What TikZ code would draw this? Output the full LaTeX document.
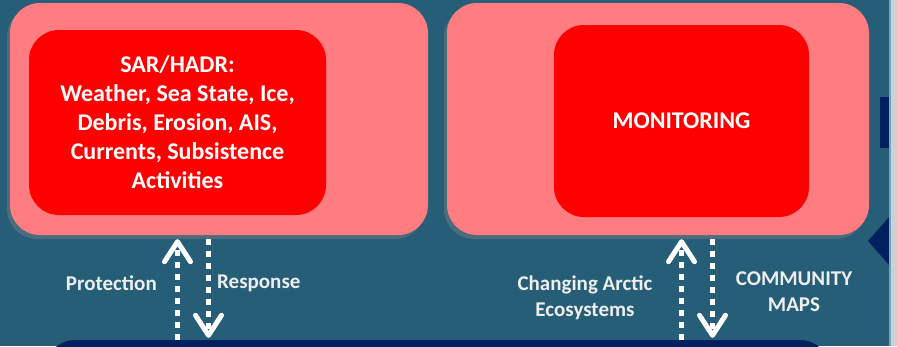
\documentclass[tikz,border=0pt]{standalone}
\usepackage{fontspec}
\setmainfont{Carlito}
\usetikzlibrary{arrows.meta}
\usetikzlibrary{shadows}
\definecolor{bgteal}{HTML}{265E77}
\definecolor{panelpink}{HTML}{FF7C80}
\definecolor{panelred}{HTML}{FF0000}
\definecolor{navy}{HTML}{002060}
\definecolor{shade}{HTML}{4B6D7D}
\definecolor{labelgray}{HTML}{EEEEEE}
\definecolor{edgegray}{HTML}{D0D0D0}
\definecolor{edgeblue}{HTML}{6FA6C4}
\tikzset{
	outerbox/.style={fill=panelpink, rounded corners=30pt, inner sep=0pt,
		drop shadow={shadow xshift=-3pt, shadow yshift=-4pt, fill=shade, opacity=1}},
	innerbox/.style={fill=panelred, rounded corners=30pt, inner sep=0pt, text=white,
		align=center, font=\bfseries\fontsize{24}{29}\selectfont},
	flowlabel/.style={text=labelgray, align=center, inner sep=0pt,
		font=\bfseries\fontsize{21}{26}\selectfont},
	dotflow/.style={draw=white, line width=5pt, dash pattern=on 6pt off 6pt,
		-{Straight Barb[length=20pt, width=26pt, round]}},
}
\newcommand{\flowpair}[2]{% {outer box}{inner box}
	\draw[dotflow] (base.north -| #2.south) -- ([yshift=-4pt]#1.south -| #2.south); % up
	\draw[dotflow] ([yshift=-4pt,xshift=31pt]#1.south -| #2.south) -- ([yshift=2pt,xshift=31pt]base.north -| #2.south) % down
}

\begin{document}
\begin{tikzpicture}[x=1pt,y=-1pt]
	\useasboundingbox (0,0) rectangle (897,346);
	\clip (0,0) rectangle (897,346);
	\fill[bgteal] (0,0) rectangle (897,346);

	% side marks, cut by the page edge
	\fill[navy] (880,97) rectangle (897,148);
	\fill[navy] (868,241) -- (897,208) -- (897,274) -- cycle;
	\fill[edgegray] (889,0) rectangle (897,346);
	\fill[edgeblue] (889,0) rectangle (890.5,346);

	\node[fill=navy, rounded corners=30pt, minimum width=785pt, minimum height=80pt] (base) at (437.5,380) {};

	\node[outerbox, minimum width=418pt, minimum height=232pt] (sarOut) at (219,119) {};
	\node[innerbox, minimum width=297pt, minimum height=185pt] (sar) at (177.5,122.5)
		{SAR/HADR:\\Weather, Sea State, Ice,\\Debris, Erosion, AIS,\\Currents, Subsistence\\Activities};
	\node[outerbox, minimum width=422pt, minimum height=232pt] (monOut) at (658,119) {};
	\node[innerbox, minimum width=255pt, minimum height=192pt] (mon) at (681.5,121) {MONITORING};

	\flowpair{sarOut}{sar};
	\flowpair{monOut}{mon};

	\node[flowlabel, anchor=east] (prot) at (157,283) {Protection};
	\node[flowlabel, anchor=west] (resp) at (217,283) {Response};
	\node[flowlabel] (eco) at (585,298) {Changing Arctic\\Ecosystems};
	\node[flowlabel] (maps) at (794,292) {COMMUNITY\\MAPS};
\end{tikzpicture}
\end{document}
